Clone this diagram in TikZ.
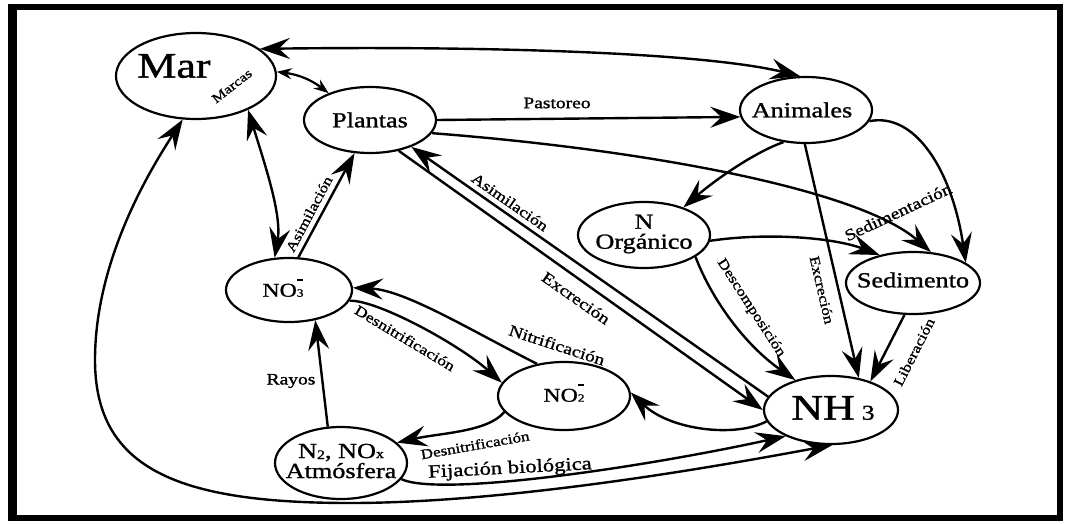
\documentclass[tikz,border=0pt]{standalone}
\usepackage{fontspec}
\setmainfont{Liberation Serif}[FakeStretch=1.22,FakeBold=1.2]
\usetikzlibrary{arrows.meta,shapes.geometric}
\newcommand\ionz[1]{\makebox[0pt][l]{\raisebox{16pt}{\rule{6.5pt}{1.5pt}}}{\fontsize{11}{11}\selectfont #1}}
\begin{document}
\begin{tikzpicture}[x=1pt,y=-1pt,
  st/.style={draw, ellipse, line width=2.2pt, inner sep=0pt},
  nl/.style={font=\fontsize{21.5}{20}\selectfont, align=center, inner sep=0pt},
  ion/.style={font=\fontsize{19.5}{20}\selectfont, inner sep=0pt},
  big/.tip={Stealth[length=30pt,width=21pt,inset=11pt]},
  sml/.tip={Stealth[length=15pt,width=11pt,inset=5pt]},
  ed/.style={line width=2.4pt, -big},
  edd/.style={line width=2.4pt, big-big},
  eds/.style={line width=2.2pt, sml-sml},
  lb/.style={font=\fontsize{16}{16}\selectfont, inner sep=0pt},
  lbs/.style={font=\fontsize{14}{14}\selectfont, inner sep=0pt}
]
\path[use as bounding box] (0,0) rectangle (1070,524);
\draw[line width=6pt] (13,7) rectangle (1060,518);
\draw[line width=9pt] (12,4) -- (12,521);

% nodes
\node[st, minimum width=160pt, minimum height=86pt] (mar) at (196,76) {};
\node[font=\fontsize{36}{36}\selectfont, inner sep=0pt] (martxt) at (174,66) {Mar};
\node[st, minimum width=132pt, minimum height=66pt, label={[nl]center:Plantas}] (pla) at (370,120) {};
\node[st, minimum width=132pt, minimum height=66pt, label={[nl,xshift=-4pt]center:Animales}] (ani) at (806,110) {};
\node[st, minimum width=132pt, minimum height=66pt, label={[nl,yshift=1pt]center:{N\\Orgánico}}] (norg) at (644,235) {};
\node[st, minimum width=134pt, minimum height=62pt, label={[nl,yshift=3pt]center:Sedimento}] (sed) at (913,283) {};
\node[st, minimum width=134pt, minimum height=68pt] (nh3) at (831,410) {};
\node[inner sep=0pt] (nh3txt) at (833,408) {{\fontsize{36}{36}\selectfont NH}\hspace{7pt}{\fontsize{21}{21}\selectfont 3}};
\node[st, minimum width=132pt, minimum height=68pt, label={[ion,yshift=3pt]center:{NO\ionz{2}}}] (no2) at (564,396) {};
\node[st, minimum width=126pt, minimum height=64pt, label={[ion,xshift=-6pt,yshift=2pt]center:{NO\ionz{3}}}] (no3) at (289,290) {};
\node[st, minimum width=132pt, minimum height=72pt, label={[nl,yshift=2pt]center:{N{\fontsize{13}{13}\selectfont\raisebox{-1pt}{2}}, NO{\fontsize{13}{13}\selectfont x}\\Atmósfera}}] (atm) at (341,463) {};

% connectors
\draw[edd] (mar.23) .. controls (480,46) and (700,52) .. (ani.100);
\draw[eds] (mar.3) to[bend left=15] (pla.147);
\draw[edd] (mar.-33) .. controls (265,165) and (282,215) .. (no3.114);
\draw[ed] (no3.74) -- (pla.-115);
\draw[ed] (pla.0) -- (ani.186);
\draw[ed] (pla.-12) .. controls (650,150) and (860,190) .. (sed.60);
\draw[ed] (ani.-10) .. controls (915,112) and (952,170) .. (sed.21);
\draw[ed] (ani.-125) .. controls (755,152) and (715,180) .. (norg.35);
\draw[ed] (ani.-92) -- (nh3.49);
\draw[ed] (norg.-5) .. controls (770,232) and (835,238) .. (sed.140);
\draw[ed] (norg.-23) .. controls (712,300) and (745,345) .. (nh3.140);
\draw[ed] (sed.-105) -- (nh3.36);
\draw[ed] (nh3.168) -- (pla.-33);
\draw[ed] (pla.-47) -- (nh3.180);
\draw[ed] (no2.130) .. controls (470,330) and (405,290) .. (no3.2);
\draw[ed] (no3.-10) .. controls (378,300) and (460,345) .. (no2.168);
\draw[ed] (no2.-165) .. controls (488,432) and (440,433) .. (atm.20);
\draw[ed] (atm.110) -- (no3.-49);
\draw[ed] (atm.-15) .. controls (440,497) and (640,468) .. (nh3.-150);
\draw[ed] (nh3.-170) .. controls (735,438) and (670,430) .. (no2.3);
\draw[edd] (nh3.-88) .. controls (740,462) and (520,503) .. (350,503)
   .. controls (180,503) and (95,470) .. (95,360)
   .. controls (95,260) and (150,170) .. (mar.-107);

% labels
\node[lbs, font=\fontsize{13}{13}\selectfont, rotate=38] (lmar) at (232,86) {Marcas};
\node[lb] (lpas) at (557,103) {Pastoreo};
\node[lb, rotate=25] (lsed) at (898,212) {Sedimentación};
\node[lb, font=\fontsize{15}{15}\selectfont, rotate=-35] (lasi) at (510,202) {Asimilación};
\node[lb, rotate=-35] (lexc) at (576,298) {Excreción};
\node[lbs, rotate=62] (lasi2) at (309,214) {Asimilación};
\node[lbs, rotate=-77] (lexc2) at (822,290) {Excreción};
\node[lbs, rotate=-57] (ldes) at (751,308) {Descomposición};
\node[lbs, rotate=63] (llib) at (914,352) {Liberación};
\node[lb, rotate=-18] (lnit) at (557,345) {Nitrificación};
\node[lbs, font=\fontsize{14.5}{14.5}\selectfont, rotate=-31] (lden1) at (405,338) {Desnitrificación};
\node[lbs, rotate=10] (lden2) at (475,445) {Desnitrificación};
\node[lb] (lray) at (291,381) {Rayos};
\node[lb, font=\fontsize{18.5}{18.5}\selectfont, rotate=3] (lfij) at (510,469) {Fijación biológica};
\end{tikzpicture}
\end{document}
